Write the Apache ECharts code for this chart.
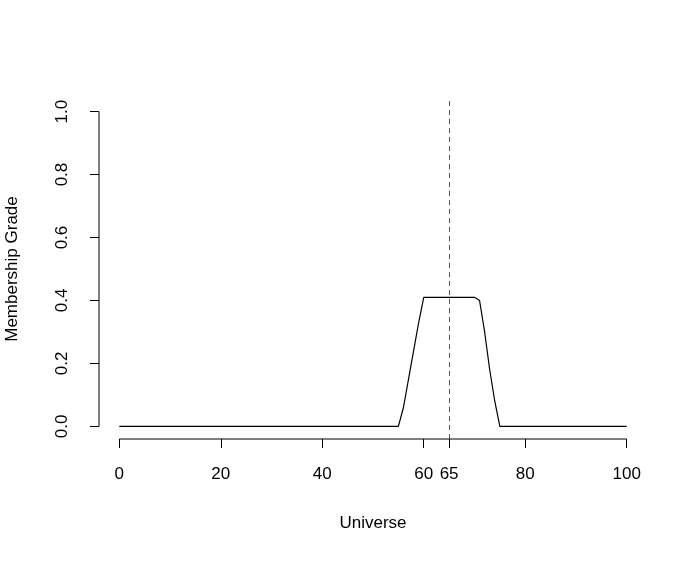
<!DOCTYPE html>
<html><head><meta charset="utf-8">
<script src="https://cdn.jsdelivr.net/npm/echarts@6/dist/echarts.min.js"></script>
<style>html,body{margin:0;padding:0;background:#fff}#c{width:698px;height:561px}</style>
</head><body><div id="c"></div>
<script>
const xTicks=[0,20,40,60,65,80,100];
const yTicks=[0,0.2,0.4,0.6,0.8,1.0];
const xs=[0,55,56,57,58,59,60,65,70,71,72,73,74,75,100];
const ys=[0,0,0.06,0.15,0.24,0.33,0.41,0.41,0.41,0.40,0.30,0.18,0.08,0,0];
const cut=65;
const font='Liberation Sans, Arial, sans-serif';
const chart=echarts.init(document.getElementById('c'));
const ax={color:'#000',width:1};
chart.setOption({
 animation:false,
 grid:{left:99,right:51,top:99,bottom:122,containLabel:false,outerBoundsMode:'none'},
 xAxis:{type:'value',min:-4,max:104,splitLine:{show:false},axisLine:{show:true,onZero:false,lineStyle:{opacity:0}},
  axisTick:{show:true,inside:false,length:9,lineStyle:ax,customValues:xTicks},
  axisLabel:{color:'#000',fontSize:17,fontFamily:font,margin:27,customValues:xTicks},
  name:'Universe',nameLocation:'middle',nameGap:76,nameTextStyle:{color:'#000',fontSize:17,fontFamily:font}},
 yAxis:{type:'value',min:-0.04,max:1.04,splitLine:{show:false},axisLine:{show:true,onZero:false,lineStyle:{opacity:0}},
  axisTick:{show:true,inside:false,length:9,lineStyle:ax,customValues:yTicks},
  axisLabel:{color:'#000',fontSize:17,fontFamily:font,margin:28,rotate:90,customValues:yTicks,formatter:v=>v.toFixed(1)},
  name:'Membership Grade',nameLocation:'middle',nameGap:78,nameTextStyle:{color:'#000',fontSize:17,fontFamily:font}},
 series:[
  {type:'line',data:xs.map((x,i)=>[x,ys[i]]),symbol:'none',lineStyle:{color:'#000',width:1.2},
   markLine:{symbol:'none',silent:true,label:{show:false},lineStyle:{color:'#555',type:[5,4],width:1},data:[{xAxis:cut}]}},
  {type:'line',data:[[xTicks[0],-0.04],[xTicks[xTicks.length-1],-0.04]],symbol:'none',clip:false,lineStyle:ax},
  {type:'line',data:[[-4,yTicks[0]],[-4,yTicks[yTicks.length-1]]],symbol:'none',clip:false,lineStyle:ax}
 ]
});
</script></body></html>
